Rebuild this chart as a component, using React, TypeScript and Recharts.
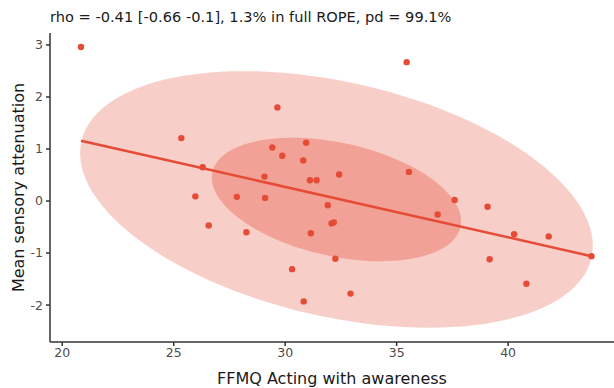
import React from "react";
import { ScatterChart, Scatter, XAxis, YAxis } from "recharts";

// observed points (FFMQ score, sensory attenuation)
const acting = [
    20.84, 25.34, 26.3, 25.97, 26.57, 27.83, 28.26, 29.07, 29.1, 29.42, 29.65, 29.87, 30.31, 30.81, 30.94, 30.83,
    31.11, 31.41, 31.15, 31.91, 32.08, 32.18, 32.25, 32.42, 32.93, 35.45, 35.55, 36.84, 37.6, 39.08, 39.17, 40.27,
    40.82, 41.82, 43.74,
];
const attenuation = [
    2.96, 1.21, 0.65, 0.09, -0.47, 0.08, -0.6, 0.47, 0.06, 1.03, 1.8, 0.87, -1.31, 0.78, 1.12, -1.93, 0.4, 0.4,
    -0.62, -0.08, -0.43, -0.41, -1.11, 0.51, -1.78, 2.67, 0.56, -0.26, 0.02, -0.11, -1.12, -0.64, -1.59, -0.68,
    -1.06,
];

// regression line end points
const fitX = [20.84, 43.74];
const fitY = [1.16, -1.06];

// ellipses: centre, rightmost point, conjugate point above centre
const outerX = [32.3, 43.8, 32.3];
const outerY = [0.03, -0.86, 2.33];
const innerX = [32.3, 37.89, 32.3];
const innerY = [0.03, -0.39, 1.14];

const xTicks = [20, 25, 30, 35, 40];
const yTicks = [-2, -1, 0, 1, 2, 3];

const RED = "#E64B35";

const toPoints = (xs: number[], ys: number[]) => xs.map((x, i) => ({ x, y: ys[i] }));

const points = toPoints(acting, attenuation);
const fit = toPoints(fitX, fitY);
const outer = toPoints(outerX, outerY);
const inner = toPoints(innerX, innerY);

// draws the ellipse from the pixel positions of centre + two conjugate radii
const ellipseLine = (opacity: number) => (props: any) => {
    const pts = props.points;
    if (!pts || pts.length < 3) return <g />;
    const [c, a, b] = pts;
    let d = "";
    for (let i = 0; i <= 120; i++) {
        const t = (i / 120) * Math.PI * 2;
        const px = c.x + (a.x - c.x) * Math.cos(t) + (b.x - c.x) * Math.sin(t);
        const py = c.y + (a.y - c.y) * Math.cos(t) + (b.y - c.y) * Math.sin(t);
        d += (i === 0 ? "M" : "L") + px.toFixed(2) + "," + py.toFixed(2);
    }
    return <path d={d + "Z"} fill={RED} fillOpacity={opacity} stroke="none" />;
};

const noShape = () => <g />;

export default function App() {
    const font = "DejaVu Sans, sans-serif";
    return (
        <div style={{ position: "absolute", left: 0, top: 0, width: 614, height: 388, background: "#fff" }}>
            <div
                style={{
                    position: "absolute",
                    left: 50,
                    top: 9,
                    fontFamily: font,
                    fontSize: 14.6,
                    lineHeight: "16px",
                    color: "#1a1a1a",
                    whiteSpace: "nowrap",
                }}
            >
                rho = -0.41 [-0.66 -0.1], 1.3% in full ROPE, pd = 99.1%
            </div>
            <ScatterChart width={614} height={388} margin={{ top: 33, right: 0, bottom: 0, left: 0 }}>
                <XAxis
                    type="number"
                    dataKey="x"
                    domain={[19.45, 44.75]}
                    ticks={xTicks}
                    allowDataOverflow
                    height={46}
                    tickSize={4}
                    tickMargin={2}
                    stroke="#333"
                    strokeWidth={1.5}
                    tick={{ fill: "#4d4d4d", fontSize: 12.5, fontFamily: font }}
                    label={{
                        value: "FFMQ Acting with awareness",
                        position: "insideBottom",
                        offset: 4,
                        fill: "#1a1a1a",
                        fontSize: 16,
                        fontFamily: font,
                    }}
                />
                <YAxis
                    type="number"
                    dataKey="y"
                    domain={[-2.71, 3.23]}
                    ticks={yTicks}
                    allowDataOverflow
                    width={50}
                    tickSize={4}
                    tickMargin={3}
                    stroke="#333"
                    strokeWidth={1.5}
                    tick={{ fill: "#4d4d4d", fontSize: 12.5, fontFamily: font }}
                    label={{
                        value: "Mean sensory attenuation",
                        angle: -90,
                        position: "insideLeft",
                        offset: 18,
                        textAnchor: "middle",
                        fill: "#1a1a1a",
                        fontSize: 16,
                        fontFamily: font,
                    }}
                />
                <Scatter
                    data={outer}
                    fill={RED}
                    shape={noShape}
                    line={ellipseLine(0.27)}
                    isAnimationActive={false}
                    legendType="none"
                />
                <Scatter
                    data={inner}
                    fill={RED}
                    shape={noShape}
                    line={ellipseLine(0.34)}
                    isAnimationActive={false}
                    legendType="none"
                />
                <Scatter
                    data={fit}
                    fill={RED}
                    shape={noShape}
                    line={{ stroke: RED, strokeWidth: 2.6 }}
                    isAnimationActive={false}
                    legendType="none"
                />
                <Scatter data={points} fill={RED} isAnimationActive={false} shape={(p: any) => <circle cx={p.cx} cy={p.cy} r={3.2} fill={RED} />} />
            </ScatterChart>
        </div>
    );
}
